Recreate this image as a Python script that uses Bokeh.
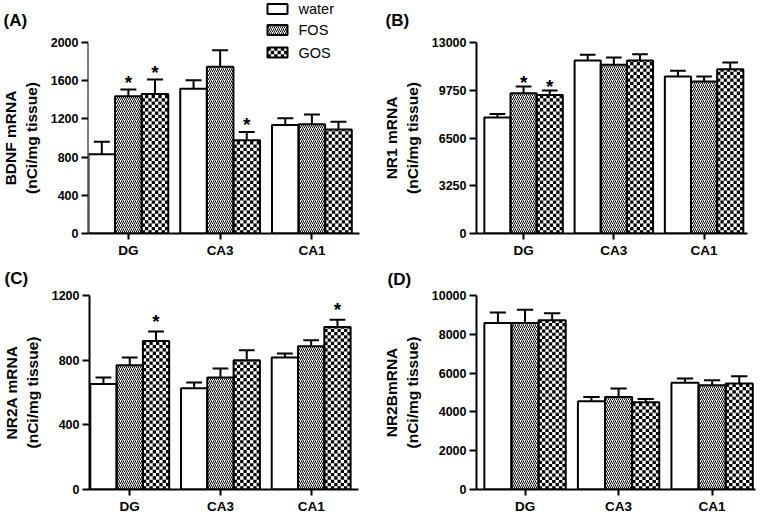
from bokeh.plotting import figure
from bokeh.layouts import column, row
from bokeh.models import ColumnDataSource, FixedTicker, Range1d, Column
from bokeh.core.properties import value
from bokeh.embed import file_html
from bokeh.resources import INLINE

# ---------------- data ----------------
categories = ["DG", "CA3", "CA1"]
groups = ["water", "FOS", "GOS"]

# (A) BDNF mRNA
bdnf_water = [830, 1515, 1135]
bdnf_water_sem = [130, 90, 72]
bdnf_fos = [1438, 1745, 1145]
bdnf_fos_sem = [70, 175, 100]
bdnf_gos = [1460, 977, 1090]
bdnf_gos_sem = [152, 87, 80]
bdnf_sig = [[0, 0, 0], [1, 0, 0], [1, 1, 0]]   # per group, per category
bdnf_ticks = [0, 400, 800, 1200, 1600, 2000]

# (B) NR1 mRNA
nr1_water = [7890, 11770, 10680]
nr1_water_sem = [250, 390, 390]
nr1_fos = [9550, 11480, 10340]
nr1_fos_sem = [450, 500, 340]
nr1_gos = [9430, 11770, 11180]
nr1_gos_sem = [300, 430, 455]
nr1_sig = [[0, 0, 0], [1, 0, 0], [1, 0, 0]]
nr1_ticks = [0, 3250, 6500, 9750, 13000]

# (C) NR2A mRNA
nr2a_water = [652, 626, 816]
nr2a_water_sem = [41, 36, 25]
nr2a_fos = [769, 693, 886]
nr2a_fos_sem = [47, 56, 37]
nr2a_gos = [919, 800, 1005]
nr2a_gos_sem = [59, 61, 45]
nr2a_sig = [[0, 0, 0], [0, 0, 0], [1, 0, 1]]
nr2a_ticks = [0, 400, 800, 1200]

# (D) NR2B mRNA
nr2b_water = [8580, 4550, 5500]
nr2b_water_sem = [550, 217, 217]
nr2b_fos = [8580, 4770, 5380]
nr2b_fos_sem = [680, 430, 250]
nr2b_gos = [8720, 4500, 5470]
nr2b_gos_sem = [370, 170, 370]
nr2b_sig = [[0, 0, 0], [0, 0, 0], [0, 0, 0]]
nr2b_ticks = [0, 2000, 4000, 6000, 8000, 10000]

FONT = "Liberation Sans"
GAP = 0.45
BAR_W = 1.0
CELL_PX = 3.3          # checkerboard cell size in pixels
HATCH = dict(hatch_pattern="/", hatch_color="black", hatch_scale=4, hatch_weight=1.0)


def checker_cells(x0, x1, y0, y1, cw, ch):
    """Black cells of a checkerboard covering the box [x0,x1] x [y0,y1]."""
    L, R, B, T = [], [], [], []
    ncol = max(1, int(round((x1 - x0) / cw)))
    cw = (x1 - x0) / ncol
    r = 0
    y = y0
    while y < y1 - 1e-9:
        top = min(y + ch, y1)
        for c in range(ncol):
            if (r + c) % 2 == 0:
                L.append(x0 + c * cw)
                R.append(x0 + (c + 1) * cw)
                B.append(y)
                T.append(top)
        y += ch
        r += 1
    return L, R, B, T


def style_fig(p):
    p.outline_line_color = None
    p.xgrid.visible = False
    p.ygrid.visible = False
    p.background_fill_color = "white"
    p.border_fill_color = "white"


def set_title(p, tag, standoff, dx, bl):
    p.title.text = tag
    p.title.align = "left"
    p.title.vertical_align = "top"
    p.title.offset = -bl + dx
    p.title.standoff = standoff
    p.title.text_font = FONT
    p.title.text_font_style = "bold"
    p.title.text_font_size = "17px"
    p.title.text_color = "black"


def style_axis(ax):
    ax.axis_line_width = 2
    ax.major_tick_line_width = 2
    ax.major_tick_in = 0
    ax.minor_tick_line_color = None
    ax.major_label_text_font = FONT
    ax.major_label_text_font_style = "bold"
    ax.major_label_text_color = "black"
    ax.axis_line_color = "black"
    ax.major_tick_line_color = "black"


def style_yaxis(p, ticks, ylabel):
    ax = p.yaxis[0]
    style_axis(ax)
    ax.major_tick_out = 7
    ax.ticker = FixedTicker(ticks=ticks)
    ax.bounds = (ticks[0], ticks[-1])
    ax.major_label_text_font_size = "12.5px"
    ax.major_label_standoff = 3
    ax.axis_label = ylabel
    ax.axis_label_text_font = FONT
    ax.axis_label_text_font_style = "bold"
    ax.axis_label_text_font_size = "15.5px"
    ax.axis_label_text_color = "black"
    ax.axis_label_standoff = 8


def draw_bars(p, series, sems, sig, frame_h, ymax_px_range, star_dy):
    """Bars, checkerboard cells, error bars, asterisks and x axis."""
    cw = BAR_W / 8.0
    ch = CELL_PX * ymax_px_range / frame_h
    pitch = 3 * BAR_W + GAP
    centers = [i * pitch + 1.5 * BAR_W for i in range(len(categories))]
    srcs = []
    for j, g in enumerate(groups):
        xs = [i * pitch + (j + 0.5) * BAR_W for i in range(len(categories))]
        tops = series[j]
        errs = [t + s for t, s in zip(tops, sems[j])]
        src = ColumnDataSource(dict(x=xs, top=tops, err=errs,
                                    cl=[x - 0.3 for x in xs], cr=[x + 0.3 for x in xs]))
        srcs.append(src)
        p.segment(x0="x", y0="top", x1="x", y1="err", source=src,
                  line_color="black", line_width=2)
        p.segment(x0="cl", y0="err", x1="cr", y1="err", source=src,
                  line_color="black", line_width=2)
        extra = HATCH if g == "FOS" else {}
        p.vbar(x="x", top="top", bottom=0, width=BAR_W, source=src,
               fill_color="white", line_color=None, **extra)
        if g == "GOS":
            L, R, B, T = [], [], [], []
            for x, t in zip(xs, tops):
                l, r_, b, tt = checker_cells(x - BAR_W / 2, x + BAR_W / 2, 0, t, cw, ch)
                L += l; R += r_; B += b; T += tt
            p.quad(left=L, right=R, bottom=B, top=T, fill_color="black", line_color=None)
        sx = [x for x, s in zip(xs, sig[j]) if s]
        sy = [e for e, s in zip(errs, sig[j]) if s]
        if sx:
            p.text(x=sx, y=sy, text=["*"] * len(sx), text_align="center",
                   text_baseline="alphabetic", y_offset=star_dy,
                   text_font=value(FONT), text_font_style="bold",
                   text_font_size="19px", text_color="black")
    for src in srcs:
        p.vbar(x="x", top="top", bottom=0, width=BAR_W, source=src,
               fill_color=None, line_color="black", line_width=2)
    ax = p.xaxis[0]
    style_axis(ax)
    ax.major_tick_out = 6
    ax.ticker = FixedTicker(ticks=centers)
    ax.major_label_overrides = {c: n for c, n in zip(centers, categories)}
    ax.major_label_text_font_size = "13.5px"
    ax.major_label_standoff = 3


def make_panel(tag, title_standoff, title_dx, ylabel, ticks, series, sems, sig,
               W, H, bl, br, bt, bb, xr, star_dy):
    p = figure(width=W, height=H, output_backend="svg", toolbar_location=None,
               x_range=Range1d(*xr), y_range=Range1d(0, ticks[-1]),
               min_border_left=bl, min_border_right=br, min_border_top=bt,
               min_border_bottom=bb)
    style_fig(p)
    set_title(p, tag, title_standoff, title_dx, bl)
    draw_bars(p, series, sems, sig, H - bt - bb, ticks[-1], star_dy)
    style_yaxis(p, ticks, ylabel)
    return p


# ---- panel A: y-axis strip + plot area reaching the top (room for the legend) ----
A_H, A_BT, A_BB, A_BL = 260, 42, 27, 87
A_FH = A_H - A_BT - A_BB                     # axis height in px
A_MAIN_W, A_BR = 292, 21
A_XR = (0, 10.19)
a_ymax = bdnf_ticks[-1] * (A_H - A_BB) / A_FH  # value at the very top of the plot area

pA_axis = figure(width=A_BL + 1, height=A_H, output_backend="svg", toolbar_location=None,
                 x_range=Range1d(0, 1), y_range=Range1d(0, bdnf_ticks[-1]),
                 x_axis_location=None, min_border_left=A_BL, min_border_right=0,
                 min_border_top=A_BT, min_border_bottom=A_BB)
style_fig(pA_axis)
set_title(pA_axis, "(A)", 21, 2, A_BL)
style_yaxis(pA_axis, bdnf_ticks, "BDNF mRNA\n(nCi/mg tissue)")

pA = figure(width=A_MAIN_W, height=A_H, output_backend="svg", toolbar_location=None,
            x_range=Range1d(*A_XR), y_range=Range1d(0, a_ymax),
            y_axis_location=None, min_border_left=0, min_border_right=A_BR,
            min_border_top=0, min_border_bottom=A_BB)
style_fig(pA)
draw_bars(pA, [bdnf_water, bdnf_fos, bdnf_gos],
          [bdnf_water_sem, bdnf_fos_sem, bdnf_gos_sem], bdnf_sig,
          A_H - A_BB, a_ymax, -7)

# legend (drawn in the plot area, positioned in pixels from the panel's top-left)
a_fw = A_MAIN_W - A_BR
a_fh = A_H - A_BB


def ax_x(px):
    return A_XR[0] + (px - (A_BL + 1)) / a_fw * (A_XR[1] - A_XR[0])


def ax_y(py):
    return (a_fh - py) / a_fh * a_ymax


leg_rows = [8.5, 29.5, 52.0]
leg_x0, leg_w, leg_h = 267, 20, 10
for g, cy in zip(groups, leg_rows):
    extra = HATCH if g == "FOS" else {}
    l, r_ = ax_x(leg_x0), ax_x(leg_x0 + leg_w)
    t, b = ax_y(cy - leg_h / 2), ax_y(cy + leg_h / 2)
    pA.quad(left=[l], right=[r_], bottom=[b], top=[t], fill_color="white",
            line_color=None, **extra)
    if g == "GOS":
        L, R, B, T = checker_cells(l, r_, b, t, (r_ - l) / 6.0, (t - b) / 3.0)
        pA.quad(left=L, right=R, bottom=B, top=T, fill_color="black", line_color=None)
    pA.quad(left=[l], right=[r_], bottom=[b], top=[t], fill_color=None,
            line_color="black", line_width=2)
    pA.text(x=[ax_x(leg_x0 + leg_w + 11)], y=[ax_y(cy)], text=[g], text_baseline="middle",
            text_font=value(FONT), text_font_size="14.5px", text_color="black")

pB = make_panel("(B)", 21, 3, "NR1 mRNA\n(nCi/mg tissue)", nr1_ticks,
                [nr1_water, nr1_fos, nr1_gos],
                [nr1_water_sem, nr1_fos_sem, nr1_gos_sem], nr1_sig,
                383, 260, 94, 16, 42, 27, (-0.30, 10.06), -4)
pC = make_panel("(C)", 11, 2, "NR2A mRNA\n(nCi/mg tissue)", nr2a_ticks,
                [nr2a_water, nr2a_fos, nr2a_gos],
                [nr2a_water_sem, nr2a_fos_sem, nr2a_gos_sem], nr2a_sig,
                380, 257, 87, 22, 35, 27, (-0.03, 10.2), -10)
pD = make_panel("(D)", 10, 3, "NR2BmRNA\n(nCi/mg tissue)", nr2b_ticks,
                [nr2b_water, nr2b_fos, nr2b_gos],
                [nr2b_water_sem, nr2b_fos_sem, nr2b_gos_sem], nr2b_sig,
                383, 257, 92, 8, 29, 28, (-0.29, 10.0), -4)

# pA is wrapped in its own column so its plot area is not aligned with its neighbours'
layout = column(row(pA_axis, Column(children=[pA]), pB), row(pC, pD))
open("out.html", "w").write(file_html(layout, INLINE))
